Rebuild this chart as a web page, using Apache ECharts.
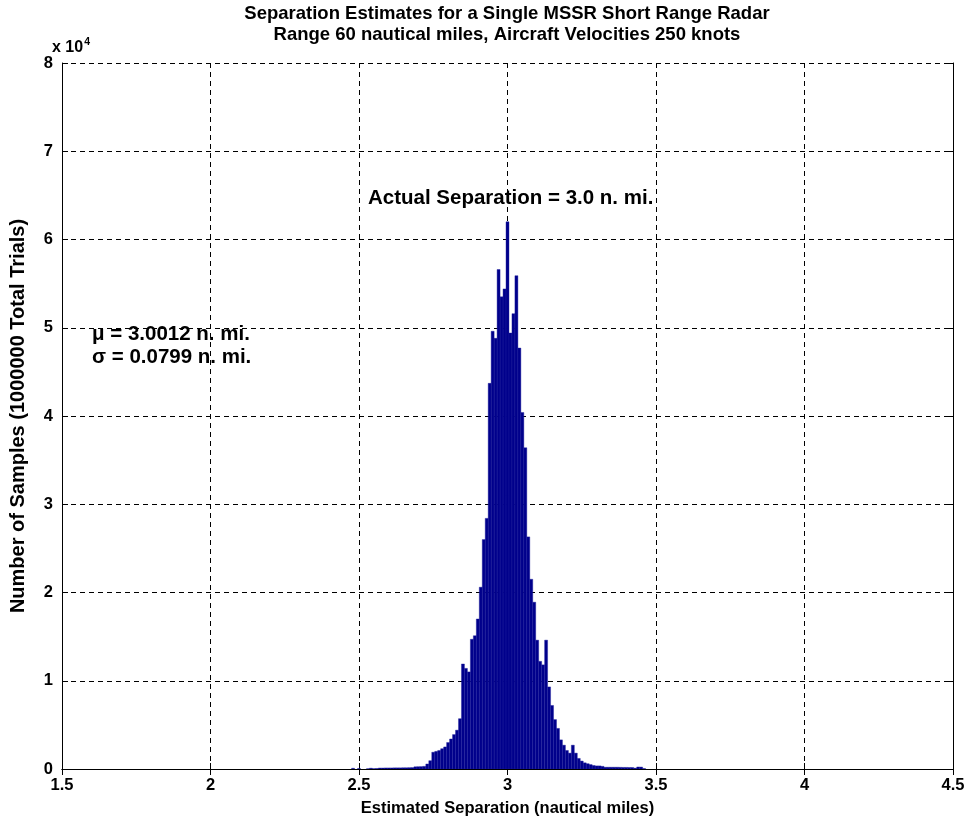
<!DOCTYPE html>
<html>
<head>
<meta charset="utf-8">
<script src="https://cdn.jsdelivr.net/npm/echarts@6/dist/echarts.min.js"></script>
<style>
html,body{margin:0;padding:0;background:#fff;}
#chart{width:973px;height:826px;}
</style>
</head>
<body>
<div id="chart"></div>
<script>
// Histogram bin centers (nautical miles) and sample counts
const binCenters = [2.48,2.49,2.50,2.51,2.52,2.53,2.54,2.55,2.56,2.57,2.58,2.59,2.60,2.61,2.62,2.63,2.64,2.65,2.66,2.67,2.68,2.69,2.70,2.71,2.72,2.73,2.74,2.75,2.76,2.77,2.78,2.79,2.80,2.81,2.82,2.83,2.84,2.85,2.86,2.87,2.88,2.89,2.90,2.91,2.92,2.93,2.94,2.95,2.96,2.97,2.98,2.99,3.00,3.01,3.02,3.03,3.04,3.05,3.06,3.07,3.08,3.09,3.10,3.11,3.12,3.13,3.14,3.15,3.16,3.17,3.18,3.19,3.20,3.21,3.22,3.23,3.24,3.25,3.26,3.27,3.28,3.29,3.30,3.31,3.32,3.33,3.34,3.35,3.36,3.37,3.38,3.39,3.40,3.41,3.42,3.43,3.44,3.45,3.46];
const counts = [80,0,60,0,0,30,90,40,60,110,110,120,120,120,130,130,130,140,140,150,160,250,260,270,300,570,940,1900,2000,2100,2300,2500,3000,3400,3900,4400,5700,11900,11400,11000,14700,15100,17000,20600,26000,28400,43700,49600,48800,56600,53500,54400,62000,49400,51600,55900,47700,40400,36400,26300,21500,18900,14600,12200,11800,14600,9300,7200,5600,4600,3300,2700,2100,1800,2700,1800,1200,900,700,600,500,400,350,350,300,200,200,200,200,200,190,180,180,170,170,100,230,220,50];
const binWidth = 0.01;
const xTicks = {min: 1.5, max: 4.5, interval: 0.5};
const yTicks = {min: 0, max: 80000, interval: 10000};

const titleLines = ['Separation Estimates for a Single MSSR Short Range Radar', 'Range 60 nautical miles, Aircraft Velocities 250 knots'];
const xLabel = 'Estimated Separation (nautical miles)';
const yLabel = 'Number of Samples (1000000 Total Trials)';
const noteActual = 'Actual Separation = 3.0 n. mi.';
const noteMu = 'μ = 3.0012 n. mi.';
const noteSigma = 'σ = 0.0799 n. mi.';

const FONT = '"Liberation Sans", Arial, Helvetica, sans-serif';
const chart = echarts.init(document.getElementById('chart'), null, {renderer: 'canvas'});

const histData = binCenters.map((c, i) => [c, counts[i]]);
const gridLine = {show: true, lineStyle: {color: '#000', type: [5, 4], width: 1}};
const axisLineBlack = {show: true, lineStyle: {color: '#000', width: 1}};
const tickStyle = {show: true, inside: true, length: 6, lineStyle: {color: '#000'}};

const option = {
  backgroundColor: '#fff',
  animation: false,
  textStyle: {fontFamily: FONT},
  grid: {left: 62, right: 20, top: 63, bottom: 57, containLabel: false},
  xAxis: [{
    type: 'value', min: xTicks.min, max: xTicks.max, interval: xTicks.interval,
    position: 'bottom',
    name: xLabel, nameLocation: 'middle', nameGap: 31,
    nameTextStyle: {fontFamily: FONT, fontSize: 16.5, fontWeight: 'bold', color: '#000'},
    axisLine: axisLineBlack,
    axisTick: tickStyle,
    axisLabel: {fontFamily: FONT, fontSize: 16.5, fontWeight: 'bold', color: '#000', margin: 8},
    splitLine: gridLine
  }, {
    type: 'value', min: xTicks.min, max: xTicks.max, interval: xTicks.interval,
    position: 'top',
    axisLine: axisLineBlack, axisTick: tickStyle,
    axisLabel: {show: false}, splitLine: {show: false}
  }],
  yAxis: [{
    type: 'value', min: yTicks.min, max: yTicks.max, interval: yTicks.interval,
    position: 'left',
    name: yLabel, nameLocation: 'middle', nameGap: 34, nameRotate: 90,
    nameTextStyle: {fontFamily: FONT, fontSize: 20, fontWeight: 'bold', color: '#000'},
    axisLine: axisLineBlack,
    axisTick: tickStyle,
    axisLabel: {fontFamily: FONT, fontSize: 16.5, fontWeight: 'bold', color: '#000', margin: 9,
      formatter: v => String(v / 10000)},
    splitLine: gridLine
  }, {
    type: 'value', min: yTicks.min, max: yTicks.max, interval: yTicks.interval,
    position: 'right',
    axisLine: axisLineBlack, axisTick: tickStyle,
    axisLabel: {show: false}, splitLine: {show: false}
  }],
  series: [{
    type: 'custom',
    xAxisIndex: 0, yAxisIndex: 0,
    clip: true,
    data: histData,
    renderItem: function (params, api) {
      const c = api.value(0), n = api.value(1);
      if (n <= 0) return null;
      const p0 = api.coord([c - binWidth / 2, 0]);
      const p1 = api.coord([c + binWidth / 2, n]);
      return {
        type: 'rect',
        shape: {x: p0[0], y: p1[1], width: p1[0] - p0[0], height: p0[1] - p1[1]},
        style: {fill: '#00008B', stroke: '#1c1c9c', lineWidth: 0.4}
      };
    },
    z: 3
  }],
  graphic: [
    {type: 'text', z: 10,
      style: {x: 507, y: 14, text: titleLines[0], textAlign: 'center', textVerticalAlign: 'middle',
        fontFamily: FONT, fontSize: 18.5, fontWeight: 'bold', fill: '#000'}},
    {type: 'text', z: 10,
      style: {x: 507, y: 35, text: titleLines[1], textAlign: 'center', textVerticalAlign: 'middle',
        fontFamily: FONT, fontSize: 18.5, fontWeight: 'bold', fill: '#000'}},
    {type: 'text', left: 52, top: 37, z: 10,
      style: {text: '{a|x 10}{b|4}', rich: {
        a: {fontFamily: FONT, fontSize: 16, fontWeight: 'bold', fill: '#000'},
        b: {fontFamily: FONT, fontSize: 10.5, fontWeight: 'bold', fill: '#000', verticalAlign: 'top', padding: [0,0,10,1]}
      }}},
    {type: 'text', z: 10,
      style: {x: 368, y: 198, text: noteActual, textAlign: 'left', textVerticalAlign: 'middle',
        fontFamily: FONT, fontSize: 20.5, fontWeight: 'bold', fill: '#000'}},
    {type: 'text', z: 10,
      style: {x: 92, y: 334, text: noteMu, textAlign: 'left', textVerticalAlign: 'middle',
        fontFamily: FONT, fontSize: 20.5, fontWeight: 'bold', fill: '#000'}},
    {type: 'text', z: 10,
      style: {x: 92, y: 357, text: noteSigma, textAlign: 'left', textVerticalAlign: 'middle',
        fontFamily: FONT, fontSize: 20.5, fontWeight: 'bold', fill: '#000'}}
  ]
};
chart.setOption(option);
</script>
</body>
</html>
